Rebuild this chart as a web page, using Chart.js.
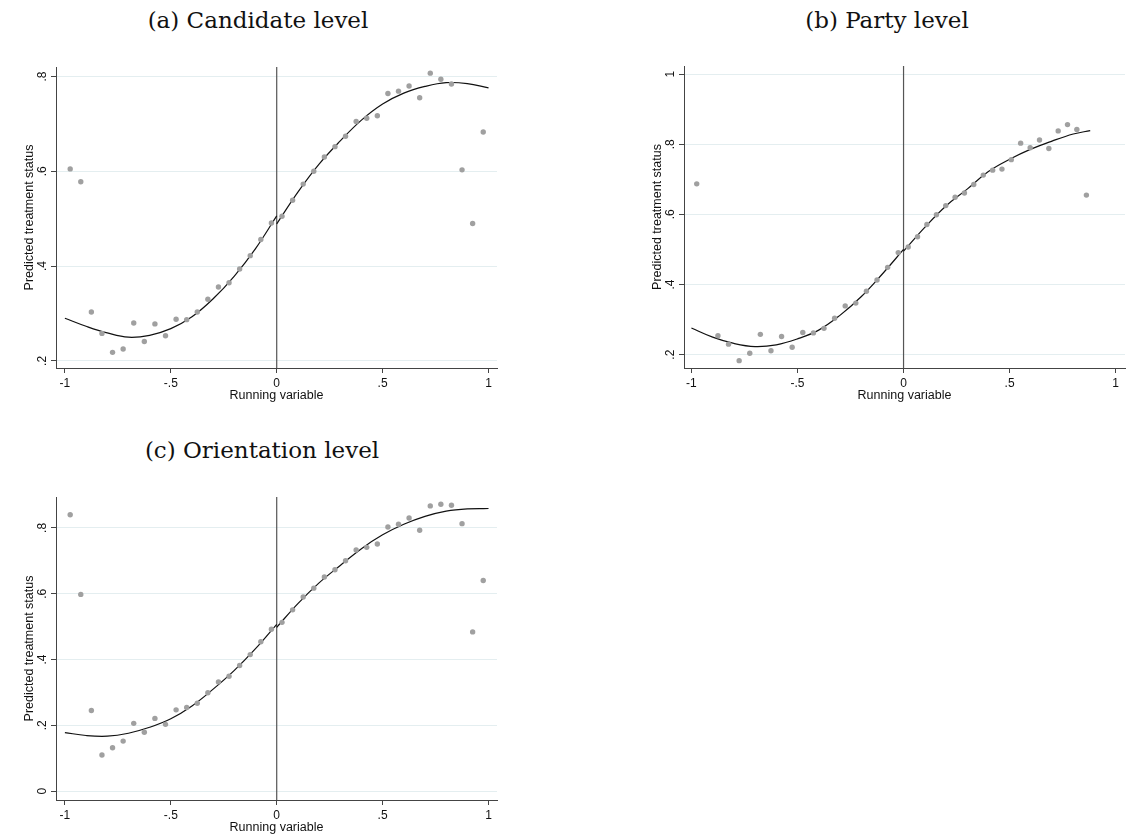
<!DOCTYPE html>
<html>
<head>
<meta charset="utf-8">
<script src="https://cdn.jsdelivr.net/npm/chart.js@4.4.1/dist/chart.umd.min.js"></script>
<style>
  html, body { margin: 0; padding: 0; background: #fff; overflow: hidden; }
  body { width: 1130px; height: 836px; position: relative; }
  canvas { position: absolute; }
  .ttl { position: absolute; width: 400px; text-align: center; font-family: "DejaVu Serif", serif; font-size: 23px; line-height: 26px; color: #111; }
</style>
</head>
<body>
<div class="ttl" style="left:58px;top:7px">(a) Candidate level</div>
<div class="ttl" style="left:687px;top:7px">(b) Party level</div>
<div class="ttl" style="left:62px;top:437px">(c) Orientation level</div>
<canvas id="ca" width="565" height="412" style="left:0;top:0"></canvas>
<canvas id="cb" width="565" height="412" style="left:565px;top:0"></canvas>
<canvas id="cc" width="565" height="424" style="left:0;top:420px"></canvas>
<script>
// x ticks shared by all panels
var xTicks = [-1, -0.5, 0, 0.5, 1];
var xTickLabels = ["-1", "-.5", "0", ".5", "1"];
var cutoff = 0;

// (a) candidate level: binned means
var binsAX = [-0.975, -0.925, -0.875, -0.825, -0.775, -0.725, -0.675, -0.625, -0.575, -0.525,
  -0.475, -0.425, -0.375, -0.325, -0.275, -0.225, -0.175, -0.125, -0.075, -0.025,
  0.025, 0.075, 0.125, 0.175, 0.225, 0.275, 0.325, 0.375, 0.425, 0.475,
  0.525, 0.575, 0.625, 0.675, 0.725, 0.775, 0.825, 0.875, 0.925, 0.975];
var binsAY = [0.605, 0.578, 0.303, 0.258, 0.218, 0.225, 0.280, 0.241, 0.278, 0.253,
  0.288, 0.287, 0.303, 0.330, 0.356, 0.365, 0.394, 0.422, 0.456, 0.491,
  0.505, 0.539, 0.573, 0.600, 0.630, 0.652, 0.674, 0.705, 0.712, 0.717,
  0.764, 0.769, 0.780, 0.755, 0.807, 0.794, 0.784, 0.603, 0.490, 0.683];
var fitAXLeft = [-1, -0.9, -0.8, -0.7, -0.6, -0.5, -0.4, -0.3, -0.2, -0.1, 0];
var fitAYLeft = [0.290, 0.273, 0.259, 0.250, 0.254, 0.268, 0.293, 0.331, 0.379, 0.437, 0.506];
var fitAXRight = [0, 0.1, 0.2, 0.3, 0.4, 0.5, 0.6, 0.7, 0.8, 0.9, 1];
var fitAYRight = [0.489, 0.556, 0.615, 0.664, 0.708, 0.742, 0.765, 0.779, 0.787, 0.785, 0.776];
var yTicksA = [0.2, 0.4, 0.6, 0.8];
var yTickLabelsA = [".2", ".4", ".6", ".8"];

// (b) party level
var binsBX = [-0.975, -0.875, -0.825, -0.775, -0.725, -0.675, -0.625, -0.575, -0.525,
  -0.475, -0.425, -0.375, -0.325, -0.275, -0.225, -0.175, -0.125, -0.075, -0.025,
  0.022, 0.066, 0.110, 0.155, 0.199, 0.243, 0.287, 0.331, 0.376, 0.420,
  0.464, 0.508, 0.552, 0.597, 0.641, 0.685, 0.729, 0.773, 0.817, 0.862];
var binsBY = [0.687, 0.254, 0.230, 0.183, 0.204, 0.258, 0.211, 0.252, 0.221,
  0.263, 0.262, 0.275, 0.304, 0.339, 0.347, 0.381, 0.413, 0.449, 0.491,
  0.507, 0.536, 0.571, 0.599, 0.625, 0.649, 0.661, 0.685, 0.712, 0.726,
  0.729, 0.756, 0.803, 0.790, 0.812, 0.788, 0.838, 0.856, 0.842, 0.655];
var fitBXLeft = [-1, -0.9, -0.8, -0.7, -0.6, -0.5, -0.4, -0.3, -0.2, -0.1, 0];
var fitBYLeft = [0.276, 0.250, 0.232, 0.223, 0.228, 0.245, 0.270, 0.312, 0.365, 0.430, 0.500];
var fitBXRight = [0, 0.1, 0.2, 0.3, 0.4, 0.5, 0.6, 0.7, 0.8, 0.88];
var fitBYRight = [0.495, 0.563, 0.624, 0.672, 0.722, 0.757, 0.786, 0.809, 0.829, 0.839];
var yTicksB = [0.2, 0.4, 0.6, 0.8, 1];
var yTickLabelsB = [".2", ".4", ".6", ".8", "1"];

// (c) orientation level
var binsCX = binsAX;
var binsCY = [0.840, 0.598, 0.245, 0.110, 0.132, 0.152, 0.206, 0.179, 0.221, 0.203,
  0.247, 0.254, 0.267, 0.299, 0.332, 0.349, 0.382, 0.415, 0.454, 0.492,
  0.513, 0.551, 0.590, 0.617, 0.651, 0.673, 0.700, 0.733, 0.741, 0.751,
  0.803, 0.811, 0.830, 0.793, 0.867, 0.872, 0.869, 0.813, 0.484, 0.640];
var fitCXLeft = [-1, -0.9, -0.8, -0.7, -0.6, -0.5, -0.4, -0.3, -0.2, -0.1, 0];
var fitCYLeft = [0.178, 0.169, 0.167, 0.176, 0.194, 0.220, 0.259, 0.310, 0.367, 0.433, 0.507];
var fitCXRight = [0, 0.1, 0.2, 0.3, 0.4, 0.5, 0.6, 0.7, 0.8, 0.9, 1];
var fitCYRight = [0.498, 0.570, 0.633, 0.686, 0.737, 0.779, 0.811, 0.835, 0.851, 0.858, 0.859];
var yTicksC = [0, 0.2, 0.4, 0.6, 0.8];
var yTickLabelsC = ["0", ".2", ".4", ".6", ".8"];

function pts(xs, ys) {
  return xs.map(function (x, i) { return {x: x, y: ys[i]}; });
}

var cutoffLine = {
  id: 'cutoffLine',
  beforeDatasetsDraw: function (chart) {
    var c = chart.ctx, a = chart.chartArea;
    var px = chart.scales.x.getPixelForValue(cutoff);
    c.save();
    c.strokeStyle = '#555';
    c.lineWidth = 1.2;
    c.beginPath();
    c.moveTo(px, a.top);
    c.lineTo(px, a.bottom);
    c.stroke();
    c.restore();
  }
};

function fitLine(xs, ys) {
  return {
    type: 'line', data: pts(xs, ys), showLine: true, borderColor: '#111', borderWidth: 1.2,
    pointRadius: 0, tension: 0.4, fill: false
  };
}

function panel(id, p) {
  var font = {family: 'Liberation Sans, Arial, sans-serif', size: 12};
  var titleFont = {family: 'Liberation Sans, Arial, sans-serif', size: 12.5};
  return new Chart(document.getElementById(id), {
    type: 'scatter',
    data: {
      datasets: [
        {data: pts(p.bx, p.by), backgroundColor: '#a0a0a0', borderWidth: 0, pointRadius: 2.7},
        fitLine(p.lx, p.ly),
        fitLine(p.rx, p.ry)
      ]
    },
    options: {
      responsive: false,
      animation: false,
      layout: {padding: p.pad},
      plugins: {legend: {display: false}, tooltip: {enabled: false}},
      scales: {
        x: {
          type: 'linear', min: p.xmin, max: p.xmax,
          afterBuildTicks: function (s) { s.ticks = xTicks.map(function (v) { return {value: v}; }); },
          afterFit: function (s) { s.height = 44; },
          grid: {drawOnChartArea: false, tickColor: '#444', tickLength: 5},
          border: {display: true, color: '#444', width: 1},
          ticks: {
            autoSkip: false, padding: 3, color: '#111', font: font, maxRotation: 0,
            callback: function (v, i) { return xTickLabels[i]; }
          },
          title: {display: true, text: 'Running variable', color: '#111', font: titleFont, padding: {top: 0, bottom: 9}}
        },
        y: {
          type: 'linear', min: p.ymin, max: p.ymax,
          afterBuildTicks: function (s) { s.ticks = p.yt.map(function (v) { return {value: v}; }); },
          afterFit: function (s) { s.width = 56; },
          grid: {color: '#e4eef0', lineWidth: 1, tickColor: '#444', tickLength: 5},
          border: {display: true, color: '#444', width: 1},
          ticks: {
            autoSkip: false, padding: 3, color: '#111', font: font,
            minRotation: 90, maxRotation: 90, crossAlign: 'center',
            callback: function (v, i) { return p.yl[i]; }
          },
          title: {display: true, text: 'Predicted treatment status', color: '#111', font: titleFont, padding: {top: 22, bottom: 0}}
        }
      }
    },
    plugins: [cutoffLine]
  });
}

panel('ca', {
  bx: binsAX, by: binsAY, lx: fitAXLeft, ly: fitAYLeft, rx: fitAXRight, ry: fitAYRight,
  yt: yTicksA, yl: yTickLabelsA, xmin: -1.042, xmax: 1.04, ymin: 0.185, ymax: 0.82,
  pad: {left: 0, top: 67, right: 68, bottom: 0}
});
panel('cb', {
  bx: binsBX, by: binsBY, lx: fitBXLeft, ly: fitBYLeft, rx: fitBXRight, ry: fitBYRight,
  yt: yTicksB, yl: yTickLabelsB, xmin: -1.035, xmax: 1.044, ymin: 0.162, ymax: 1.023,
  pad: {left: 63, top: 66, right: 5, bottom: 0}
});
panel('cc', {
  bx: binsCX, by: binsCY, lx: fitCXLeft, ly: fitCYLeft, rx: fitCXRight, ry: fitCYRight,
  yt: yTicksC, yl: yTickLabelsC, xmin: -1.042, xmax: 1.04, ymin: -0.027, ymax: 0.894,
  pad: {left: 0, top: 77, right: 68, bottom: 0}
});
</script>
</body>
</html>
